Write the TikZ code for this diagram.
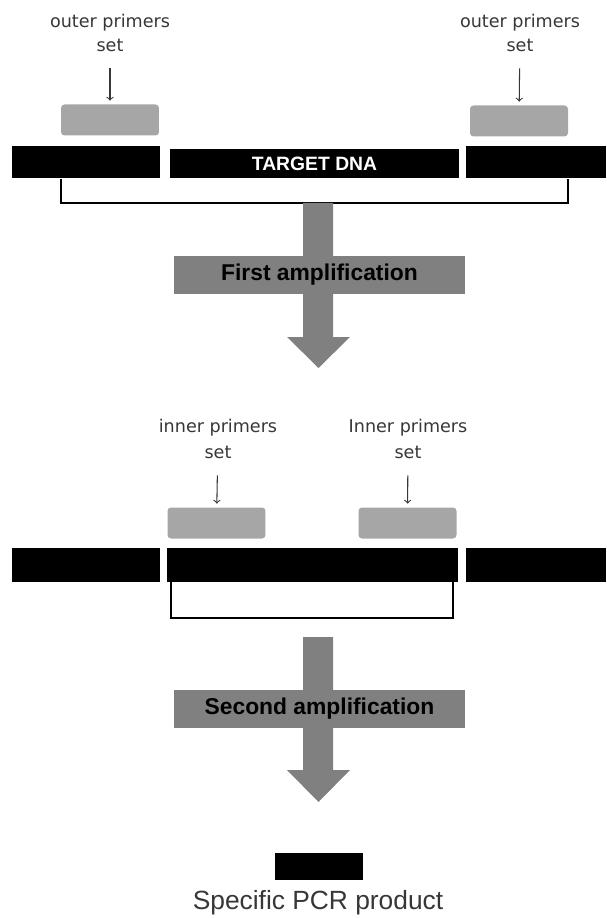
\documentclass[tikz,border=0pt]{standalone}
\usepackage{fontspec}
\setmainfont{Liberation Sans}
\newfontfamily\labelfont{DejaVu Sans}
\usetikzlibrary{calc}

\definecolor{primergray}{RGB}{166,166,166}
\definecolor{arrowgray}{RGB}{128,128,128}
\definecolor{labelgray}{RGB}{55,55,55}

\tikzset{
    dnabar/.style={fill=black, inner sep=0pt, minimum height=0.64cm},
    primer/.style={fill=primergray, rounded corners=2pt, inner sep=0pt, minimum width=1.96cm, minimum height=0.62cm},
    setlabel/.style={align=center, text=labelgray, font=\labelfont\fontsize{10}{13.5}\selectfont},
    band/.style={fill=arrowgray, inner sep=0pt, minimum width=5.82cm, minimum height=0.76cm, font=\bfseries\fontsize{13}{15}\selectfont},
    pointer/.style={->, labelgray, line width=0.6pt, shorten <=6pt, shorten >=2pt},
    bracket/.style={line width=1.1pt}
}

\begin{document}
\begin{tikzpicture}[x=0.02cm, y=-0.02cm]
    \useasboundingbox (0,0) rectangle (606,918);

    % First round: outer primers on the template
    \node[setlabel] (O1) at (110,33) {outer primers\\set};
    \node[setlabel] (O2) at (520,33) {outer primers\\set};
    \node[primer] (P1) at (110,120) {};
    \node[primer] (P2) at (519,121) {};
    \draw[pointer] (O1) -- (P1);
    \draw[pointer] (O2) -- (P2);

    \node[dnabar, minimum width=2.96cm] (L1) at (86,162.5) {};
    \node[dnabar, minimum width=5.78cm, minimum height=0.58cm, text=white,
          font=\bfseries\fontsize{11}{13}\selectfont] (T1) at (314.5,164) {TARGET DNA};
    \node[dnabar, minimum width=2.8cm] (R1) at (536,162.5) {};

    % Bracket for the first product
    \coordinate (B1) at (318,203);
    \draw[bracket] (P1.west |- L1.south) -- (P1.west |- B1) -- (P2.east |- B1) -- (P2.east |- R1.south);

    % First amplification arrow
    \fill[arrowgray] (303,203) -- (333,203) -- (333,337) -- (350,337) -- (318.5,368)
        -- (287,337) -- (303,337) -- cycle;
    \node[band] (A1) at (319.5,275) {First amplification};

    % Second round: inner primers
    \node[setlabel, font=\labelfont\fontsize{10}{14.5}\selectfont] (I1) at (218,439) {inner primers\\set};
    \node[setlabel, font=\labelfont\fontsize{10}{14.5}\selectfont] (I2) at (408,439) {Inner primers\\set};
    \node[primer] (Q1) at (216.5,523) {};
    \node[primer] (Q2) at (407.5,523) {};
    \draw[pointer] (I1) -- (Q1);
    \draw[pointer] (I2) -- (Q2);

    \node[dnabar, minimum width=2.96cm, minimum height=0.68cm] (L2) at (86,565) {};
    \node[dnabar, minimum width=5.82cm, minimum height=0.68cm] (M2) at (312.5,565) {};
    \node[dnabar, minimum width=2.8cm, minimum height=0.68cm] (R2) at (536,565) {};

    % Bracket for the nested product
    \coordinate (B2) at (312,618);
    \draw[bracket] ($(Q1.west |- M2.south)+(4,0)$) -- ($(Q1.west |- B2)+(4,0)$)
        -- ($(Q2.east |- B2)+(-4,0)$) -- ($(Q2.east |- M2.south)+(-4,0)$);

    % Second amplification arrow
    \fill[arrowgray] (303,637) -- (333,637) -- (333,770) -- (350,770) -- (318.5,802)
        -- (287,770) -- (303,770) -- cycle;
    \node[band] (A2) at (319.5,709) {Second amplification};

    % Final product
    \node[dnabar, minimum width=1.76cm, minimum height=0.54cm] (S) at (319,866.5) {};
    \node[text=labelgray, font=\fontsize{15}{17}\selectfont] (SL) at (318,903) {Specific PCR product};
\end{tikzpicture}
\end{document}
